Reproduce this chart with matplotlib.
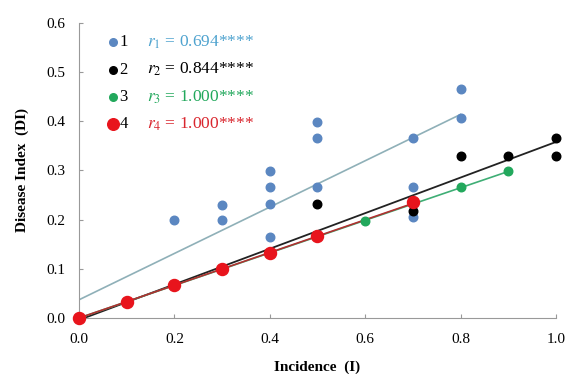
import matplotlib
matplotlib.use("Agg")
import matplotlib.pyplot as plt

plt.rcParams['font.family'] = ['Liberation Serif', 'DejaVu Serif']
plt.rcParams['mathtext.fontset'] = 'stix'

# scatter data (incidence, disease index)
s1_x = [0.2, 0.3, 0.3, 0.4, 0.4, 0.4, 0.4, 0.5, 0.5, 0.5, 0.7, 0.7, 0.7, 0.8, 0.8]
s1_y = [0.200, 0.230, 0.200, 0.298, 0.267, 0.231, 0.165, 0.398, 0.367, 0.267, 0.367, 0.267, 0.206, 0.465, 0.406]
s2_x = [0.0, 0.1, 0.2, 0.3, 0.4, 0.5, 0.5, 0.7, 0.7, 0.8, 0.9, 1.0, 1.0]
s2_y = [0.0, 0.033, 0.067, 0.100, 0.133, 0.167, 0.231, 0.218, 0.233, 0.330, 0.330, 0.367, 0.330]
s3_x = [0.0, 0.1, 0.2, 0.3, 0.4, 0.5, 0.6, 0.7, 0.8, 0.9]
s3_y = [0.0, 0.033, 0.067, 0.100, 0.133, 0.167, 0.198, 0.233, 0.267, 0.298]
s4_x = [0.0, 0.1, 0.2, 0.3, 0.4, 0.5, 0.7]
s4_y = [0.0, 0.033, 0.067, 0.100, 0.133, 0.167, 0.235]

# fitted lines, end points
fit1_x, fit1_y = [0.0, 0.8], [0.037, 0.414]
fit2_x, fit2_y = [0.0, 1.0], [-0.004, 0.358]
fit3_x, fit3_y = [0.0, 0.9], [0.0, 0.298]
fit4_x, fit4_y = [0.0, 0.7], [0.0, 0.233]

labels = ['1', '2', '3', '4']
r_texts = [r'$r_1$ = 0.694****', r'$r_2$ = 0.844****', r'$r_3$ = 1.000****', r'$r_4$ = 1.000****']

c_blue, c_black, c_green, c_red = '#5b87c1', '#000000', '#22a85c', '#e8141c'
txt_colors = ['#4fa3cf', '#000000', '#22a85c', '#d9262e']

fig = plt.figure(figsize=(5.74, 3.74), dpi=100)
ax = fig.add_axes([0.1376, 0.1497, 0.831, 0.789])

ax.plot(fit1_x, fit1_y, color='#8fb0b8', lw=1.2, zorder=2)
ax.plot(fit2_x, fit2_y, color='#222222', lw=1.3, zorder=2)
ax.plot(fit3_x, fit3_y, color='#3fae75', lw=1.2, zorder=2)
ax.plot(fit4_x, fit4_y, color='#b03030', lw=1.2, zorder=2)

ax.scatter(s1_x, s1_y, s=38, color=c_blue, zorder=3, clip_on=False)
ax.scatter(s2_x, s2_y, s=38, color=c_black, zorder=3, clip_on=False)
ax.scatter(s3_x, s3_y, s=38, color=c_green, zorder=4, clip_on=False)
ax.scatter(s4_x, s4_y, s=75, color=c_red, zorder=5, clip_on=False)

# hand-made legend
marker_colors = [c_blue, c_black, c_green, c_red]
marker_sizes = [30, 30, 30, 70]
for i in range(4):
    yy = 0.935 - i * 0.093
    ax.scatter([0.072], [yy], s=marker_sizes[i], color=marker_colors[i],
               transform=ax.transAxes, clip_on=False, zorder=6)
    ax.text(0.085, yy, labels[i], transform=ax.transAxes, fontsize=12,
            va='center', ha='left')
    ax.text(0.143, yy, r_texts[i], transform=ax.transAxes, fontsize=12.5,
            va='center', ha='left', color=txt_colors[i])

ax.set_xlim(0, 1.0)
ax.set_ylim(0, 0.6)
ax.set_xticks([0.0, 0.2, 0.4, 0.6, 0.8, 1.0])
ax.set_yticks([0.0, 0.1, 0.2, 0.3, 0.4, 0.5, 0.6])
ax.set_xticklabels(['0.0', '0.2', '0.4', '0.6', '0.8', '1.0'])
ax.set_yticklabels(['0.0', '0.1', '0.2', '0.3', '0.4', '0.5', '0.6'])
ax.tick_params(direction='in', length=3, color='#999999', labelsize=11)
ax.tick_params(axis='x', pad=11)
ax.tick_params(axis='y', pad=10)
for side in ['top', 'right']:
    ax.spines[side].set_visible(False)
for side in ['left', 'bottom']:
    ax.spines[side].set_color('#999999')

ax.set_xlabel('Incidence  (I)', fontsize=11, fontweight='bold', labelpad=10)
ax.set_ylabel('Disease Index  (DI)', fontsize=11, fontweight='bold', labelpad=12)

fig.savefig('out.png', dpi=100)
